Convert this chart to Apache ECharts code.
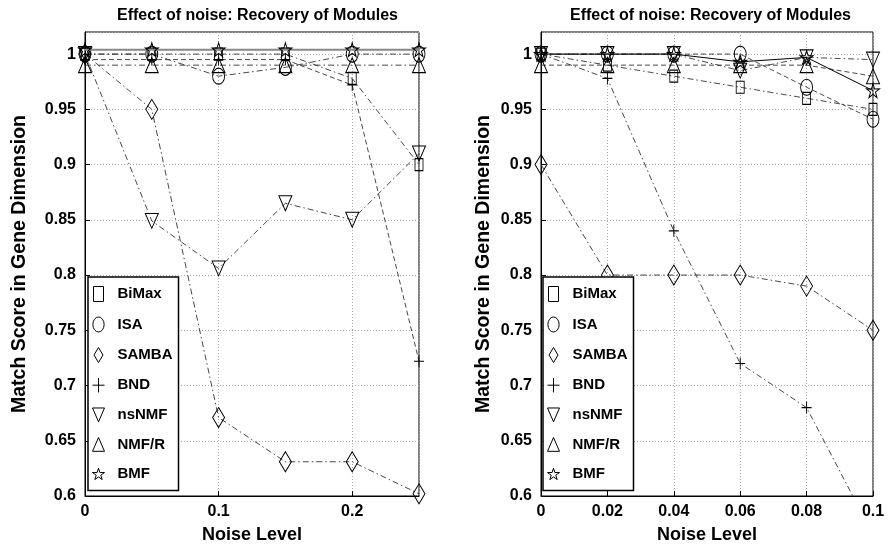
<!DOCTYPE html>
<html>
<head>
<meta charset="utf-8">
<script src="https://cdn.jsdelivr.net/npm/echarts@6/dist/echarts.min.js"></script>
<style>html,body{margin:0;padding:0;background:#fff}#c{width:890px;height:552px}</style>
</head>
<body>
<div id="c"></div>
<script>
// ---- data ----
const methods = ['BiMax', 'ISA', 'SAMBA', 'BND', 'nsNMF', 'NMF/R', 'BMF'];
const noiseLeft = [0, 0.05, 0.1, 0.15, 0.2, 0.25];
const noiseRight = [0, 0.02, 0.04, 0.06, 0.08, 0.1];

const leftBiMax = [1.0, 1.0, 1.0, 1.0, 0.978, 0.90];
const leftISA   = [1.0, 1.0, 0.98, 0.988, 1.0, 1.0];
const leftSAMBA = [1.0, 0.95, 0.671, 0.631, 0.631, 0.602];
const leftBND   = [0.995, 0.995, 0.995, 0.995, 0.972, 0.722];
const leftNsNMF = [1.0, 0.849, 0.806, 0.865, 0.85, 0.91];
const leftNMFR  = [0.99, 0.99, 0.99, 0.99, 0.99, 0.99];
const leftBMF   = [1.004, 1.004, 1.004, 1.004, 1.004, 1.004];

const rightBiMax = [1.0, 0.99, 0.98, 0.97, 0.96, 0.95];
const rightISA   = [1.0, 1.0, 1.0, 1.0, 0.97, 0.941];
const rightSAMBA = [0.9, 0.8, 0.8, 0.8, 0.79, 0.75];
const rightBND   = [1.0, 0.978, 0.84, 0.72, 0.68, 0.565];
const rightNsNMF = [1.0, 1.0, 1.0, 0.985, 0.997, 0.995];
const rightNMFR  = [0.99, 0.99, 0.99, 0.99, 0.99, 0.98];
const rightBMF   = [1.0, 1.0, 1.0, 0.993, 0.997, 0.967];

const titleText = 'Effect of noise: Recovery of Modules';
const xName = 'Noise Level';
const yName = 'Match Score in Gene Dimension';

// ---- styling ----
const FONT = '"Liberation Sans", Arial, sans-serif';
const SYM = {
  'BiMax': {s: 'path://M0,0H8V12H0Z', size: [8, 12]},
  'ISA':   {s: 'path://M6,0A6,8 0 1,1 6,16A6,8 0 1,1 6,0Z', size: [12, 16]},
  'SAMBA': {s: 'path://M6,0L12,10L6,20L0,10Z', size: [12, 20]},
  'BND':   {s: 'path://M5,0V12M0,6H10', size: [10, 12]},
  'nsNMF': {s: 'path://M0,0H13L6.5,15Z', size: [13, 15]},
  'NMF/R': {s: 'path://M6.5,0L13,15H0Z', size: [13, 15]},
  'BMF':   {s: 'path://M50,0L61.2,34.6L97.6,34.5L68.1,55.9L79.4,90.5L50,69L20.6,90.5L31.9,55.9L2.4,34.5L38.8,34.6Z', size: [13, 14]}
};
const DASH = [5, 3];
const DASHDOT = [6, 3, 1.5, 3];
const leftStyles = {
  'BiMax': {type: DASHDOT}, 'ISA': {type: DASHDOT}, 'SAMBA': {type: DASHDOT},
  'BND': {type: DASH}, 'nsNMF': {type: DASHDOT}, 'NMF/R': {type: DASHDOT},
  'BMF': {type: 'solid', color: '#888', width: 2}
};
const rightStyles = {
  'BiMax': {type: DASHDOT}, 'ISA': {type: DASH}, 'SAMBA': {type: DASHDOT},
  'BND': {type: DASHDOT}, 'nsNMF': {type: DASHDOT}, 'NMF/R': {type: DASH},
  'BMF': {type: 'solid', color: '#000', width: 1}
};
const leftData = [leftBiMax, leftISA, leftSAMBA, leftBND, leftNsNMF, leftNMFR, leftBMF];
const rightData = [rightBiMax, rightISA, rightSAMBA, rightBND, rightNsNMF, rightNMFR, rightBMF];

function fmt(v) { return String(Math.round(v * 1000) / 1000); }

function makeSeries(xs, arr, idx, styles) {
  return methods.map((m, i) => ({
    name: m,
    type: 'line',
    xAxisIndex: idx, yAxisIndex: idx,
    data: xs.map((x, j) => [x, arr[i][j]]),
    symbol: SYM[m].s,
    symbolSize: SYM[m].size,
    showAllSymbol: true,
    clip: true,
    itemStyle: {color: 'transparent', borderColor: '#000', borderWidth: 1},
    lineStyle: Object.assign({color: '#333', width: 0.9}, styles[m]),
    emphasis: {disabled: true},
    animation: false,
    z: m === 'BMF' ? 3 : 2
  }));
}

function xAxis(idx, max, interval) {
  return {
    type: 'value', gridIndex: idx, min: 0, max: max, interval: interval,
    name: xName, nameLocation: 'middle', nameGap: 30,
    nameTextStyle: {fontFamily: FONT, fontWeight: 'bold', fontSize: 18, color: '#000'},
    axisLine: {show: true, lineStyle: {color: '#000', width: 1}},
    axisTick: {show: true, inside: true, length: 5, lineStyle: {color: '#000'}},
    axisLabel: {fontFamily: FONT, fontWeight: 'bold', fontSize: 16, color: '#000', margin: 8,
      formatter: fmt, showMaxLabel: max !== 0.25},
    splitLine: {show: true, lineStyle: {color: '#aaa', type: [1, 2], width: 1}}
  };
}
function yAxis(idx, gap) {
  return {
    type: 'value', gridIndex: idx, min: 0.6, max: 1.02, interval: 0.05,
    name: yName, nameLocation: 'middle', nameGap: gap,
    nameTextStyle: {fontFamily: FONT, fontWeight: 'bold', fontSize: 19.5, color: '#000'},
    axisLine: {show: true, lineStyle: {color: '#000', width: 1}},
    axisTick: {show: true, inside: true, length: 5, lineStyle: {color: '#000'}},
    axisLabel: {fontFamily: FONT, fontWeight: 'bold', fontSize: 16, color: '#000', margin: 9,
      formatter: fmt, showMaxLabel: false},
    splitLine: {show: true, lineStyle: {color: '#aaa', type: [1, 2], width: 1}}
  };
}
function legend(left) {
  return {
    orient: 'vertical', left: left, top: 277,
    data: methods.map(m => ({name: m, icon: SYM[m].s})),
    itemWidth: 12, itemHeight: 15, itemGap: 14.5,
    padding: [9, 6, 9, 4],
    backgroundColor: '#fff', borderColor: '#000', borderWidth: 1.5, borderRadius: 0,
    itemStyle: {color: 'transparent', borderColor: '#000', borderWidth: 1},
    textStyle: {fontFamily: FONT, fontWeight: 'bold', fontSize: 15, color: '#000', padding: [0, 0, 0, 8]},
    selectedMode: false
  };
}

const chart = echarts.init(document.getElementById('c'), null, {renderer: 'canvas'});
chart.setOption({
  backgroundColor: '#fff',
  animation: false,
  title: [
    {text: titleText, left: 112, top: 3, textStyle: {fontFamily: FONT, fontWeight: 'bold', fontSize: 16, color: '#000'}},
    {text: titleText, left: 565, top: 3, textStyle: {fontFamily: FONT, fontWeight: 'bold', fontSize: 16, color: '#000'}}
  ],
  grid: [
    {left: 85, right: 471, top: 32, bottom: 56, show: true, borderColor: '#000', borderWidth: 1, backgroundColor: 'transparent'},
    {left: 541, right: 17, top: 32, bottom: 56, show: true, borderColor: '#000', borderWidth: 1, backgroundColor: 'transparent'}
  ],
  xAxis: [xAxis(0, 0.25, 0.1), xAxis(1, 0.1, 0.02)],
  yAxis: [yAxis(0, 55), yAxis(1, 47)],
  legend: [legend(88), legend(543)],
  series: makeSeries(noiseLeft, leftData, 0, leftStyles).concat(makeSeries(noiseRight, rightData, 1, rightStyles))
});
</script>
</body>
</html>
